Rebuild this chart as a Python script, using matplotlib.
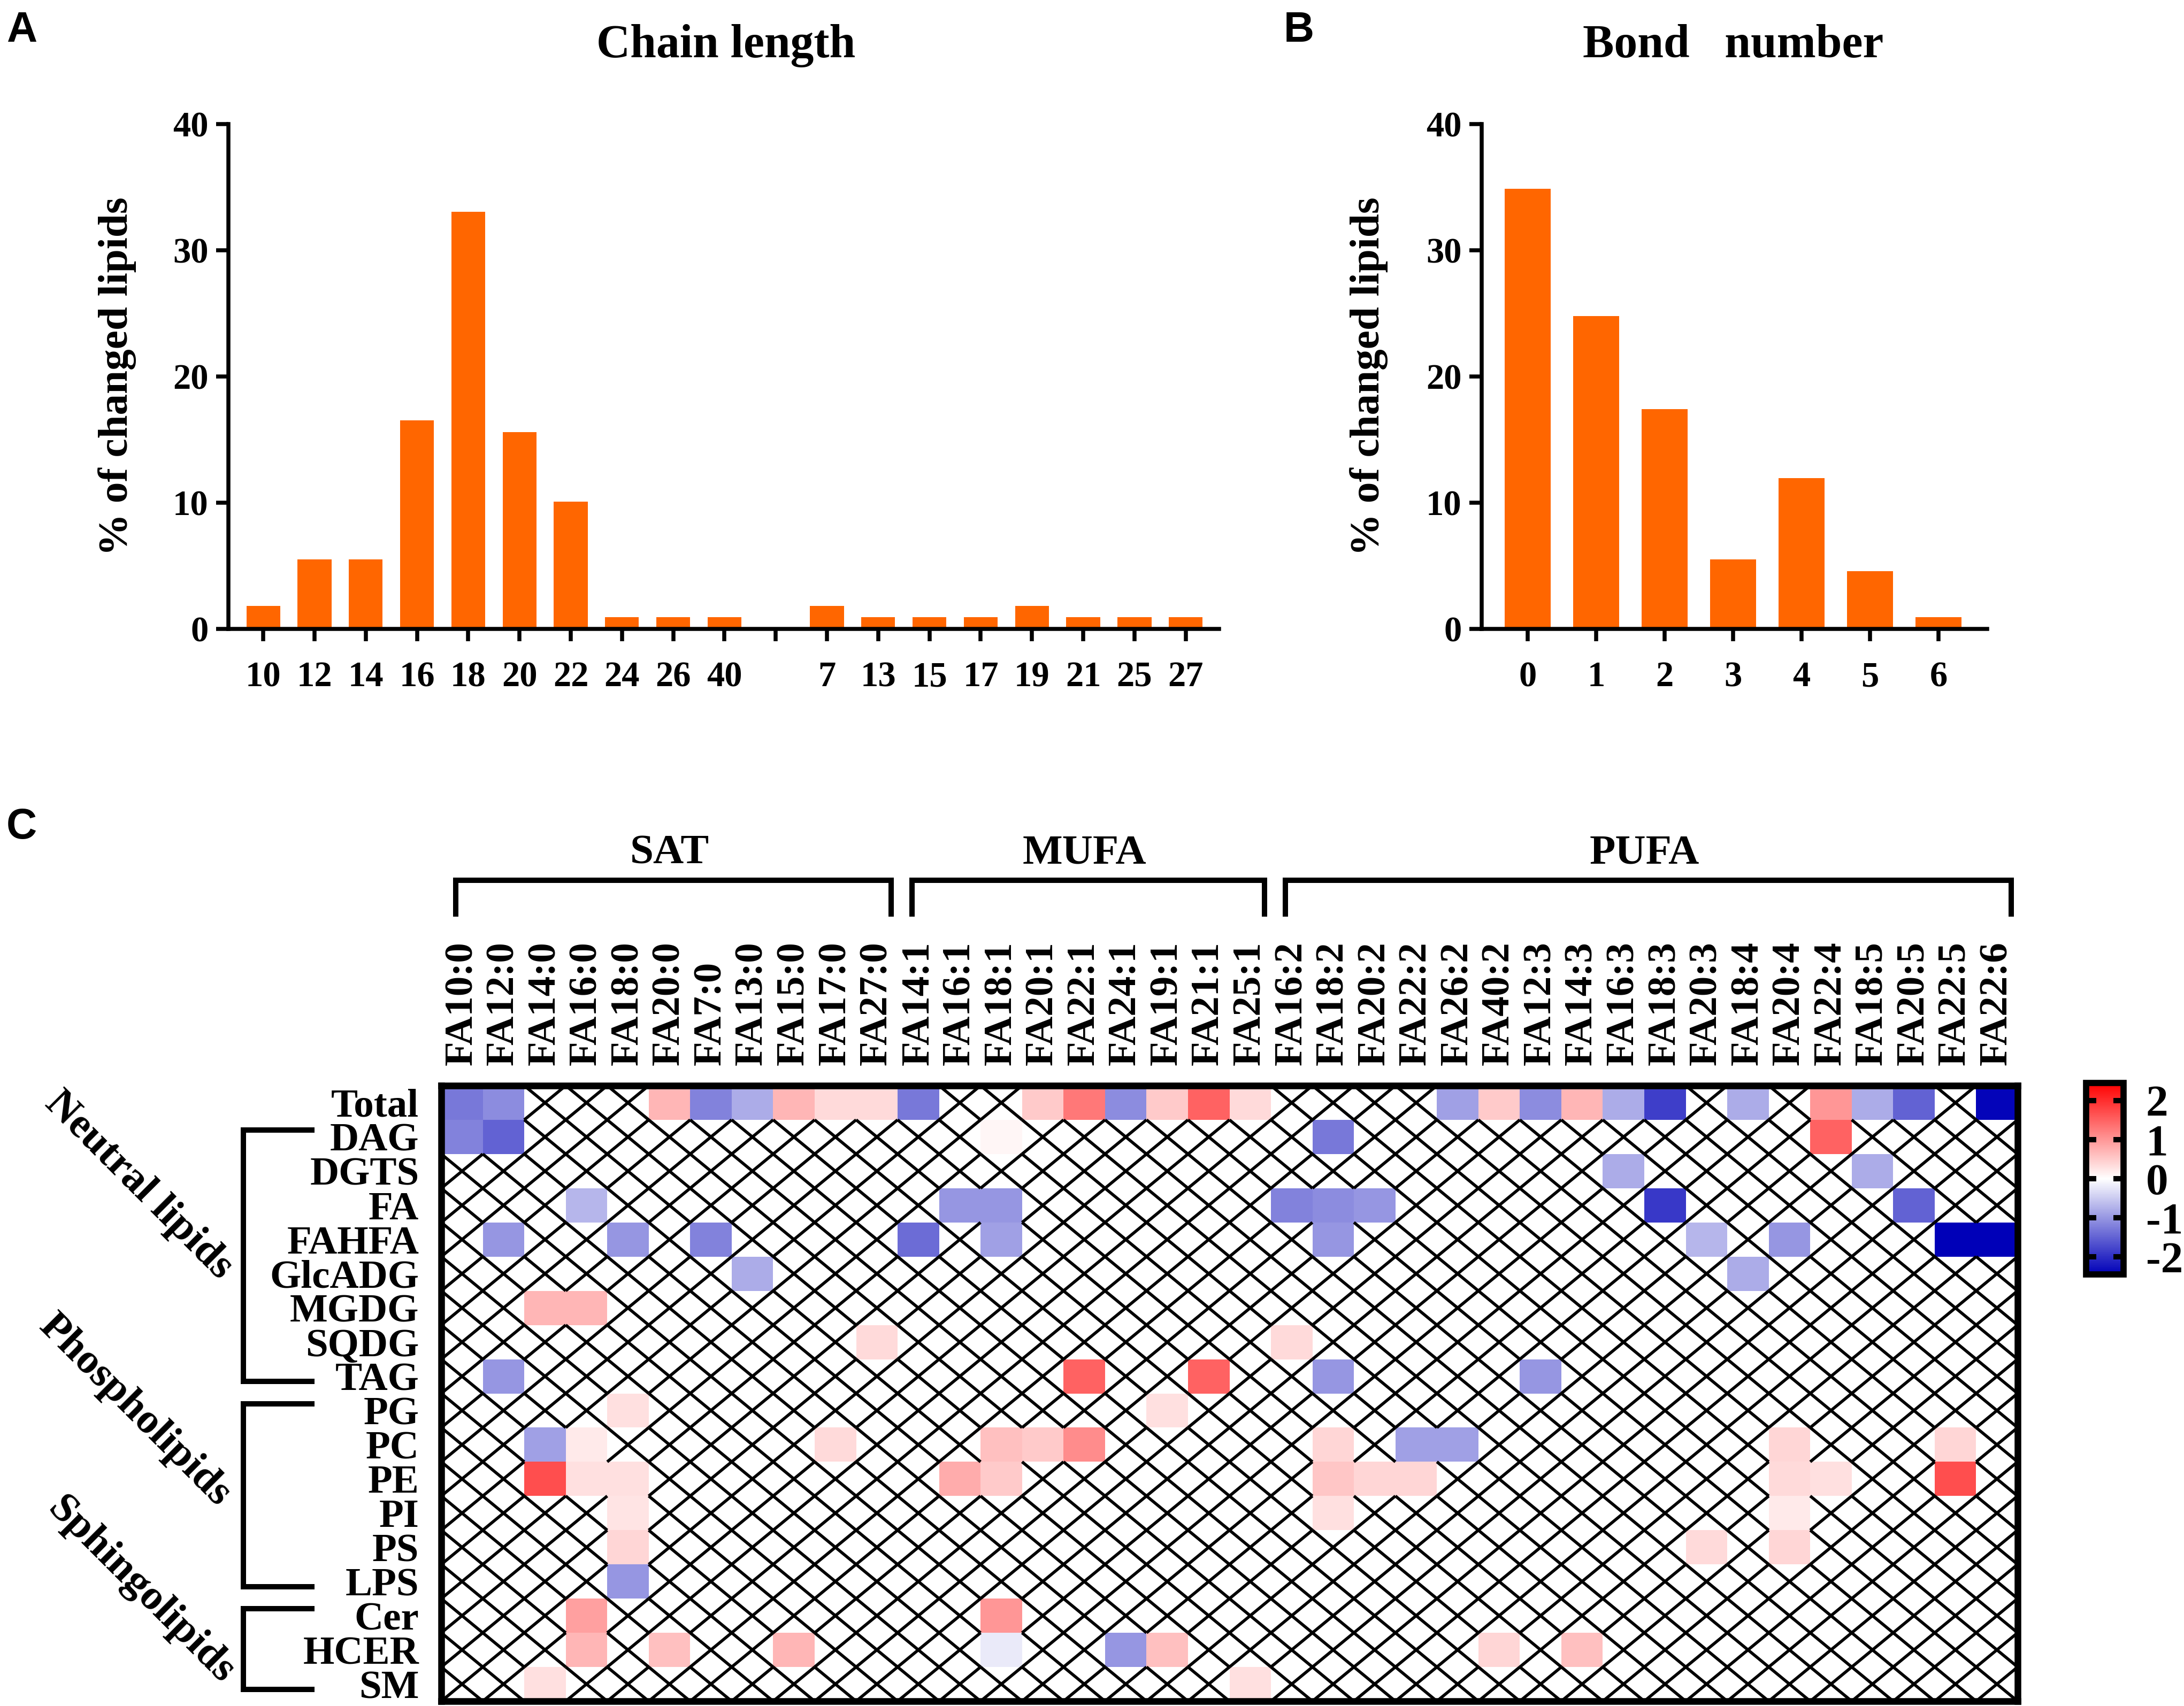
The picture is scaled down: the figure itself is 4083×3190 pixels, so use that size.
import numpy as np
import matplotlib
matplotlib.use("Agg")
import matplotlib.pyplot as plt
from matplotlib.colors import LinearSegmentedColormap
from matplotlib.collections import LineCollection
import matplotlib.transforms as mtransforms

# -------------------------------
# DATA
# -------------------------------
# panel A: % of changed lipids by chain length (even chains, then odd chains)
even_chain = ["10", "12", "14", "16", "18", "20", "22", "24", "26", "40"]
even_pct = [1.83, 5.50, 5.50, 16.51, 33.03, 15.60, 10.09, 0.92, 0.92, 0.92]
odd_chain = ["7", "13", "15", "17", "19", "21", "25", "27"]
odd_pct = [1.83, 0.92, 0.92, 0.92, 1.83, 0.92, 0.92, 0.92]

# panel B: % of changed lipids by number of double bonds
bond_labels = ["0", "1", "2", "3", "4", "5", "6"]
bond_pct = [34.86, 24.77, 17.43, 5.50, 11.93, 4.59, 0.92]

# panel C: heatmap columns / rows
sat_cols = ["FA10:0", "FA12:0", "FA14:0", "FA16:0", "FA18:0", "FA20:0",
            "FA7:0", "FA13:0", "FA15:0", "FA17:0", "FA27:0"]
mufa_cols = ["FA14:1", "FA16:1", "FA18:1", "FA20:1", "FA22:1", "FA24:1",
             "FA19:1", "FA21:1", "FA25:1"]
pufa_cols = ["FA16:2", "FA18:2", "FA20:2", "FA22:2", "FA26:2", "FA40:2",
             "FA12:3", "FA14:3", "FA16:3", "FA18:3", "FA20:3", "FA18:4",
             "FA20:4", "FA22:4", "FA18:5", "FA20:5", "FA22:5", "FA22:6"]
row_names = ["Total", "DAG", "DGTS", "FA", "FAHFA", "GlcADG", "MGDG", "SQDG", "TAG",
             "PG", "PC", "PE", "PI", "PS", "LPS", "Cer", "HCER", "SM"]

# non-empty cells per lipid class (everything else is hatched)
total = {"FA10:0": -1.3, "FA12:0": -1.1, "FA20:0": 0.7, "FA7:0": -1.2, "FA13:0": -0.8,
         "FA15:0": 0.7, "FA17:0": 0.35, "FA27:0": 0.35, "FA14:1": -1.3, "FA20:1": 0.5,
         "FA22:1": 1.3, "FA24:1": -1.1, "FA19:1": 0.5, "FA21:1": 1.5, "FA25:1": 0.35,
         "FA26:2": -0.9, "FA40:2": 0.5, "FA12:3": -1.1, "FA14:3": 0.7, "FA16:3": -0.8,
         "FA18:3": -1.85, "FA18:4": -0.8, "FA22:4": 1.0, "FA18:5": -0.8, "FA20:5": -1.5,
         "FA22:6": -2.4}
dag = {"FA10:0": -1.2, "FA12:0": -1.5, "FA18:1": 0.08, "FA18:2": -1.3, "FA22:4": 1.5}
dgts = {"FA16:3": -0.8, "FA18:5": -0.8}
fa = {"FA16:0": -0.7, "FA16:1": -1.0, "FA18:1": -1.0, "FA16:2": -1.2, "FA18:2": -1.1,
      "FA20:2": -1.0, "FA18:3": -1.9, "FA20:5": -1.5}
fahfa = {"FA12:0": -1.0, "FA18:0": -1.0, "FA7:0": -1.2, "FA14:1": -1.4, "FA18:1": -0.9,
         "FA18:2": -1.0, "FA20:3": -0.7, "FA20:4": -1.0, "FA22:5": -2.45, "FA22:6": -2.45}
glcadg = {"FA13:0": -0.8, "FA18:4": -0.8}
mgdg = {"FA14:0": 0.7, "FA16:0": 0.7}
sqdg = {"FA27:0": 0.35, "FA16:2": 0.35}
tag = {"FA12:0": -1.0, "FA22:1": 1.5, "FA21:1": 1.5, "FA18:2": -1.0, "FA12:3": -1.0}
pg = {"FA18:0": 0.3, "FA19:1": 0.3}
pc = {"FA14:0": -0.9, "FA16:0": 0.2, "FA17:0": 0.35, "FA18:1": 0.6, "FA20:1": 0.5,
      "FA22:1": 1.1, "FA18:2": 0.4, "FA22:2": -0.9, "FA26:2": -0.9, "FA20:4": 0.4,
      "FA22:5": 0.4}
pe = {"FA14:0": 1.7, "FA16:0": 0.3, "FA18:0": 0.3, "FA16:1": 0.8, "FA18:1": 0.5,
      "FA18:2": 0.55, "FA20:2": 0.4, "FA22:2": 0.4, "FA20:4": 0.35, "FA22:4": 0.3,
      "FA22:5": 1.7}
pi = {"FA18:0": 0.25, "FA18:2": 0.3, "FA20:4": 0.2}
ps = {"FA18:0": 0.4, "FA20:3": 0.35, "FA20:4": 0.4}
lps = {"FA18:0": -1.0}
cer = {"FA16:0": 0.9, "FA18:1": 1.0}
hcer = {"FA16:0": 0.7, "FA20:0": 0.6, "FA15:0": 0.7, "FA18:1": -0.2, "FA24:1": -1.0,
        "FA19:1": 0.6, "FA40:2": 0.4, "FA14:3": 0.6}
sm = {"FA14:0": 0.3, "FA25:1": 0.3}

row_values = [total, dag, dgts, fa, fahfa, glcadg, mgdg, sqdg, tag,
              pg, pc, pe, pi, ps, lps, cer, hcer, sm]

col_groups = [("SAT", sat_cols), ("MUFA", mufa_cols), ("PUFA", pufa_cols)]
row_groups = [("Neutral lipids", "DAG", "TAG"),
              ("Phospholipids", "PG", "LPS"),
              ("Sphingolipids", "Cer", "SM")]

# -------------------------------
# STYLE
# -------------------------------
plt.rcParams["font.family"] = ["Liberation Serif", "DejaVu Serif"]
plt.rcParams["font.weight"] = "bold"
plt.rcParams["axes.unicode_minus"] = False

W, H = 4083, 3190
DPI = 300
fig = plt.figure(figsize=(W / DPI, H / DPI), dpi=DPI)

bar_color = "#FF6600"
axis_lw = 1.8


def px_rect(x0, y0, x1, y1):
    """pixel box (top-left origin) -> figure fraction rect"""
    return [x0 / W, 1 - y1 / H, (x1 - x0) / W, (y1 - y0) / H]


def style_bar_axes(ax):
    for s in ["top", "right"]:
        ax.spines[s].set_visible(False)
    for s in ["left", "bottom"]:
        ax.spines[s].set_linewidth(axis_lw)
    ax.set_ylim(0, 40)
    ax.set_yticks([0, 10, 20, 30, 40])
    ax.tick_params(axis="both", direction="out", length=5.5, width=axis_lw,
                   labelsize=16)
    ax.tick_params(axis="x", pad=9)
    for lab in ax.get_xticklabels() + ax.get_yticklabels():
        lab.set_fontweight("bold")


# -------------------------------
# A. chain length
# -------------------------------
axA = fig.add_axes(px_rect(427, 232, 2279, 1176))
pos_even = np.arange(len(even_chain))
pos_odd = np.arange(len(odd_chain)) + len(even_chain) + 1
axA.bar(pos_even, even_pct, width=0.66, color=bar_color)
axA.bar(pos_odd, odd_pct, width=0.66, color=bar_color)
ticks_a = np.arange(len(even_chain) + len(odd_chain) + 1)
axA.set_xticks(ticks_a)
axA.set_xticklabels(even_chain + [""] + odd_chain)
axA.set_xlim(-0.68, ticks_a[-1] + 0.65)
style_bar_axes(axA)
axA.set_ylabel("% of changed lipids", fontsize=19, fontweight="bold")
axA.yaxis.set_label_coords(-0.093, 0.5)

# -------------------------------
# B. bond number
# -------------------------------
axB = fig.add_axes(px_rect(2770, 232, 3715, 1176))
pos_b = np.arange(len(bond_labels))
axB.bar(pos_b, bond_pct, width=0.67, color=bar_color)
axB.set_xticks(pos_b)
axB.set_xticklabels(bond_labels)
axB.set_xlim(-0.67, pos_b[-1] + 0.71)
style_bar_axes(axB)
axB.set_ylabel("% of changed lipids", fontsize=19, fontweight="bold")
axB.yaxis.set_label_coords(-0.185, 0.5)

fig.text(1357 / W, 1 - 86 / H, "Chain length", ha="center", va="center",
         fontsize=21, fontweight="bold")
fig.text(3240 / W, 1 - 86 / H, "Bond   number", ha="center", va="center",
         fontsize=21, fontweight="bold")

# -------------------------------
# C. heatmap
# -------------------------------
col_names = sat_cols + mufa_cols + pufa_cols
mat = np.full((len(row_names), len(col_names)), np.nan)
for r, vals in enumerate(row_values):
    for name, v in vals.items():
        mat[r, col_names.index(name)] = v

cmap = LinearSegmentedColormap.from_list("bwr_lip", ["#0000B8", "#FFFFFF", "#FF0000"])
vlim = 2.45

axC = fig.add_axes(px_rect(825, 2030, 3772, 3181))
mesh = axC.pcolormesh(np.arange(len(col_names) + 1), np.arange(len(row_names) + 1),
                      np.ma.masked_invalid(mat), cmap=cmap, vmin=-vlim, vmax=vlim)
axC.set_xlim(0, len(col_names))
axC.set_ylim(len(row_names), 0)

# cross-hatch the empty cells
segs = []
for r, c in zip(*np.where(np.isnan(mat))):
    segs.append([(c, r), (c + 1, r + 1)])
    segs.append([(c, r + 1), (c + 1, r)])
axC.add_collection(LineCollection(segs, colors="black", linewidths=1.35))

for s in axC.spines.values():
    s.set_linewidth(3.0)
axC.xaxis.tick_top()
axC.set_xticks(np.arange(len(col_names)) + 0.5)
axC.set_xticklabels(col_names, rotation=90, fontsize=18, fontweight="bold")
axC.set_yticks(np.arange(len(row_names)) + 0.5)
axC.set_yticklabels(row_names, fontsize=18, fontweight="bold")
axC.tick_params(axis="x", length=0, pad=9)
axC.tick_params(axis="y", length=0, pad=10)

# brackets over column groups
trans_top = mtransforms.blended_transform_factory(axC.transData, axC.transAxes)
for name, cols in col_groups:
    first = col_names.index(cols[0])
    last = col_names.index(cols[-1])
    x0, x1 = first + 0.35, last + 0.85
    axC.plot([x0, x0, x1, x1], [1.279, 1.334, 1.334, 1.279], color="black", lw=2.4,
             transform=trans_top, clip_on=False, solid_joinstyle="miter")
    axC.text((first + last + 1) / 2, 1.377, name, transform=trans_top, ha="center",
             va="center", fontsize=19, fontweight="bold")

# brackets beside row groups
trans_left = mtransforms.blended_transform_factory(axC.transAxes, axC.transData)
for name, r0, r1 in row_groups:
    first = row_names.index(r0)
    last = row_names.index(r1)
    y0, y1 = first + 0.3, last + 0.65
    axC.plot([-0.0821, -0.1256, -0.1256, -0.0821], [y0, y0, y1, y1], color="black",
             lw=2.4, transform=trans_left, clip_on=False, solid_joinstyle="miter")

fig.text(259 / W, 1 - 2217 / H, "Neutral lipids", rotation=-45, ha="center",
         va="center", rotation_mode="anchor", fontsize=19, fontweight="bold")
fig.text(252 / W, 1 - 2638 / H, "Phospholipids", rotation=-45, ha="center",
         va="center", rotation_mode="anchor", fontsize=19, fontweight="bold")
fig.text(263 / W, 1 - 2974 / H, "Sphingolipids", rotation=-45, ha="center",
         va="center", rotation_mode="anchor", fontsize=19, fontweight="bold")

# colour bar
cax = fig.add_axes(px_rect(3900, 2025, 3970, 2383))
cbar = fig.colorbar(mesh, cax=cax, ticks=[-2, -1, 0, 1, 2])
cbar.outline.set_linewidth(2.8)
cax.tick_params(direction="in", length=4.5, width=2.4, left=True, right=True,
                labelsize=20, pad=10)
for lab in cax.get_yticklabels():
    lab.set_fontweight("bold")

# panel letters
for letter, x, y in [("A", 12, 20), ("B", 2400, 20), ("C", 12, 1510)]:
    fig.text(x / W, 1 - y / H, letter, ha="left", va="top", fontsize=19,
             fontweight="bold", family="Liberation Sans")

fig.savefig("out.png", dpi=DPI)
